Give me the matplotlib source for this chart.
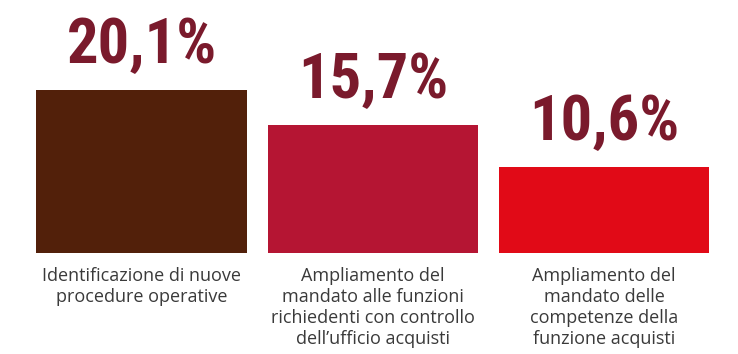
import matplotlib.pyplot as plt

# values and labels
categories = [
    "Identificazione di nuove\nprocedure operative",
    "Ampliamento del\nmandato alle funzioni\nrichiedenti con controllo\ndell\u2019ufficio acquisti",
    "Ampliamento del\nmandato delle\ncompetenze della\nfunzione acquisti",
]
values = [20.1, 15.7, 10.6]
value_labels = ["20,1%", "15,7%", "10,6%"]
bar_colors = ["#52200a", "#b51533", "#e10a17"]

big_fonts = ["Roboto Condensed", "Barlow Condensed", "DejaVu Sans"]

fig = plt.figure(figsize=(7.38, 3.54), dpi=100)
ax = fig.add_axes([0, 0, 1, 1])

x = list(range(len(values)))
ax.bar(x, values, width=0.909, color=bar_colors)

for xi, v, lab in zip(x, values, value_labels):
    ax.annotate(lab, (xi, v), xytext=(0, 19.5), textcoords="offset points",
                ha="center", va="baseline", fontsize=45, fontweight="bold",
                family=big_fonts, color="#7a1a2c")
    ax.annotate(categories[xi], (xi, 0), xytext=(0, -10.5), textcoords="offset points",
                ha="center", va="top", fontsize=13, family="Open Sans",
                color="#3a3a3a", linespacing=1.2)

ax.set_xlim(-0.612, 2.579)
ax.set_ylim(-12.49, 31.16)
ax.axis("off")

fig.savefig("out.png", dpi=100)
